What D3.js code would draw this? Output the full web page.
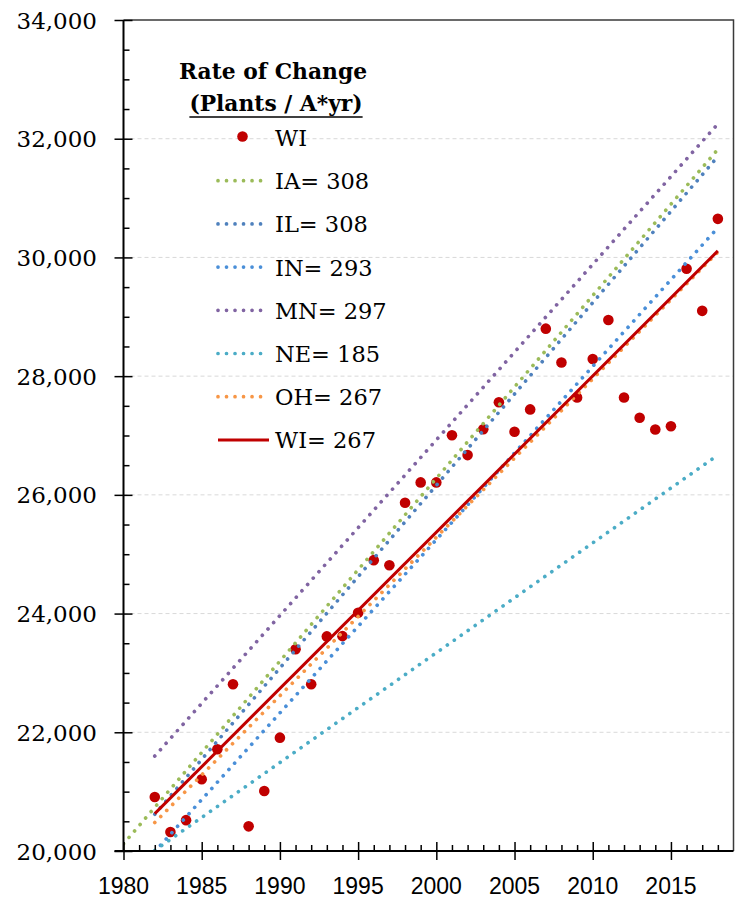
<!DOCTYPE html>
<html>
<head>
<meta charset="utf-8">
<script src="https://cdn.jsdelivr.net/npm/d3@7"></script>
<style>
  html, body { margin: 0; padding: 0; background: #fff; }
  svg { display: block; }
</style>
</head>
<body>
<svg id="chart" width="737" height="898"></svg>
<script>
// ---------------- DATA ----------------
const years = [1982, 1983, 1984, 1985, 1986, 1987, 1988, 1989, 1990, 1991, 1992, 1993, 1994, 1995, 1996, 1997, 1998, 1999, 2000, 2001, 2002, 2003, 2004, 2005, 2006, 2007, 2008, 2009, 2010, 2011, 2012, 2013, 2014, 2015, 2016, 2017, 2018];
const wiValues = [20910, 20320, 20520, 21210, 21715, 22810, 20415, 21010, 21910, 23400, 22810, 23615, 23620, 24015, 24900, 24815, 25868, 26210, 26210, 27005, 26670, 27105, 27560, 27063, 27440, 28800, 28230, 27640, 28290, 28945, 27640, 27300, 27100, 27155, 29810, 29100, 30650];

const trendNames = ["IA", "IL", "IN", "MN", "NE", "OH", "WI"];
const trendRates = [308, 308, 293, 297, 185, 267, 267];
const trendStartYears = [1980, 1982, 1982, 1982, 1982, 1982, 1982];
const trendEndYears = [2018, 2018, 2018, 2018, 2018, 2018, 2018];
const trendStartValues = [20120, 20620, 19990, 21600, 20010, 20480, 20630];
const trendEndValues = [31820, 31700, 30500, 32250, 26670, 30090, 30110];

const xTickYears = [1980, 1985, 1990, 1995, 2000, 2005, 2010, 2015];
const yTickValues = [20000, 22000, 24000, 26000, 28000, 30000, 32000, 34000];

const legendTitle = ["Rate of Change", "(Plants / A*yr)"];
const scatterLabel = "WI";

// ---------------- STYLE ----------------
const trendColors = ["#9BBB59", "#4F81BD", "#4A8FD8", "#8064A2", "#4BACC6", "#F79646", "#C00000"];
const trendDotted = [true, true, true, true, true, true, false];
const pointColor = "#C00000";

const plot = { left: 123.5, right: 733.5, top: 20, bottom: 851 };

const svg = d3.select("#chart");

const x = d3.scaleLinear().domain([1980, 2019]).range([plot.left, plot.right]);
const y = d3.scaleLinear().domain([20000, 34000]).range([plot.bottom, plot.top]);

svg.append("defs").append("clipPath").attr("id", "clip")
  .append("rect")
  .attr("x", plot.left).attr("y", plot.top)
  .attr("width", plot.right - plot.left).attr("height", plot.bottom - plot.top);

// gridlines
svg.append("g").selectAll("line")
  .data(yTickValues.filter(v => v > 20000 && v < 34000))
  .join("line")
  .attr("x1", plot.left).attr("x2", plot.right)
  .attr("y1", d => y(d)).attr("y2", d => y(d))
  .attr("stroke", "#D9D9D9").attr("stroke-width", 1)
  .attr("stroke-dasharray", "4 3");

// scatter points
const gData = svg.append("g").attr("clip-path", "url(#clip)");
gData.append("g").selectAll("circle")
  .data(years.map((yr, i) => ({ yr, v: wiValues[i] })))
  .join("circle")
  .attr("cx", d => x(d.yr)).attr("cy", d => y(d.v))
  .attr("r", 5.3).attr("fill", pointColor);

// trend lines
const line = d3.line().x(d => x(d[0])).y(d => y(d[1]));
function styleTrend(sel, i) {
  sel.attr("stroke", trendColors[i]).attr("fill", "none");
  if (trendDotted[i]) {
    sel.attr("stroke-width", 3.7).attr("stroke-linecap", "round").attr("stroke-dasharray", "0.01 8.5");
  } else {
    sel.attr("stroke-width", 3);
  }
}
trendNames.forEach((name, i) => {
  const pts = [[trendStartYears[i], trendStartValues[i]], [trendEndYears[i], trendEndValues[i]]];
  gData.append("path").attr("d", line(pts)).call(styleTrend, i);
});

// frame (top & right)
svg.append("path")
  .attr("d", `M${plot.left},${plot.top}H${plot.right}V${plot.bottom}`)
  .attr("fill", "none").attr("stroke", "#3a3a3a").attr("stroke-width", 1.5);

// Y axis
const yAxisG = svg.append("g").attr("transform", `translate(${plot.left},0)`);
yAxisG.call(d3.axisLeft(y).tickValues(d3.range(20000, 34001, 500)).tickSize(0).tickFormat(""));
yAxisG.select(".domain").remove();
yAxisG.selectAll(".tick line")
  .attr("x1", d => d % 2000 === 0 ? -9 : 0)
  .attr("x2", d => d % 2000 === 0 ? 9 : 6)
  .attr("stroke", "#000").attr("stroke-width", 1.5);
yAxisG.append("line").attr("x1", 0).attr("x2", 0).attr("y1", plot.top).attr("y2", plot.bottom)
  .attr("stroke", "#000").attr("stroke-width", 2);
svg.append("g").selectAll("text")
  .data(yTickValues)
  .join("text")
  .attr("x", 97).attr("y", d => y(d) + 8.5)
  .attr("text-anchor", "end")
  .attr("font-family", "DejaVu Serif, serif")
  .attr("font-size", 23)
  .attr("fill", "#000")
  .text(d => d3.format(",")(d));

// X axis
const xAxisG = svg.append("g").attr("transform", `translate(0,${plot.bottom})`);
xAxisG.call(d3.axisBottom(x).tickValues(d3.range(1980, 2019, 1)).tickSize(0).tickFormat(""));
xAxisG.select(".domain").remove();
xAxisG.selectAll(".tick line")
  .attr("y1", d => d % 5 === 0 ? -9 : -6)
  .attr("y2", d => d % 5 === 0 ? 9 : 0)
  .attr("stroke", "#000").attr("stroke-width", 1.5);
xAxisG.append("line").attr("x1", plot.left - 9).attr("x2", plot.right).attr("y1", 0).attr("y2", 0)
  .attr("stroke", "#000").attr("stroke-width", 2);
svg.append("g").selectAll("text")
  .data(xTickYears)
  .join("text")
  .attr("x", d => x(d)).attr("y", 894)
  .attr("text-anchor", "middle")
  .attr("font-family", "Liberation Sans, Arial, sans-serif")
  .attr("font-size", 23)
  .attr("fill", "#000")
  .text(d => d);

// Legend
const lg = svg.append("g");
lg.append("text").attr("x", 273).attr("y", 79)
  .attr("text-anchor", "middle").attr("font-family", "DejaVu Serif, serif")
  .attr("font-weight", "bold").attr("font-size", 21.8).text(legendTitle[0]);
const t2 = lg.append("text").attr("x", 276).attr("y", 111)
  .attr("text-anchor", "middle").attr("font-family", "DejaVu Serif, serif")
  .attr("font-weight", "bold").attr("font-size", 21.8).text(legendTitle[1]);
const bb = t2.node().getBBox();
lg.append("line").attr("x1", bb.x).attr("x2", bb.x + bb.width).attr("y1", 117).attr("y2", 117)
  .attr("stroke", "#000").attr("stroke-width", 1.6);

const rowY0 = 146, rowDy = 43.2, textX = 275;
lg.append("circle").attr("cx", 242.5).attr("cy", rowY0 - 9.5).attr("r", 5.3).attr("fill", pointColor);
lg.append("text").attr("x", textX).attr("y", rowY0)
  .attr("font-family", "DejaVu Serif, serif").attr("font-size", 22.5).text(scatterLabel);

trendNames.forEach((name, i) => {
  const by = rowY0 + rowDy * (i + 1);
  lg.append("line").attr("x1", 218).attr("x2", 269)
    .attr("y1", by - 8.5).attr("y2", by - 8.5)
    .call(styleTrend, i);
  lg.append("text").attr("x", textX).attr("y", by)
    .attr("font-family", "DejaVu Serif, serif").attr("font-size", 22.5)
    .text(`${name}= ${trendRates[i]}`);
});
</script>
</body>
</html>
